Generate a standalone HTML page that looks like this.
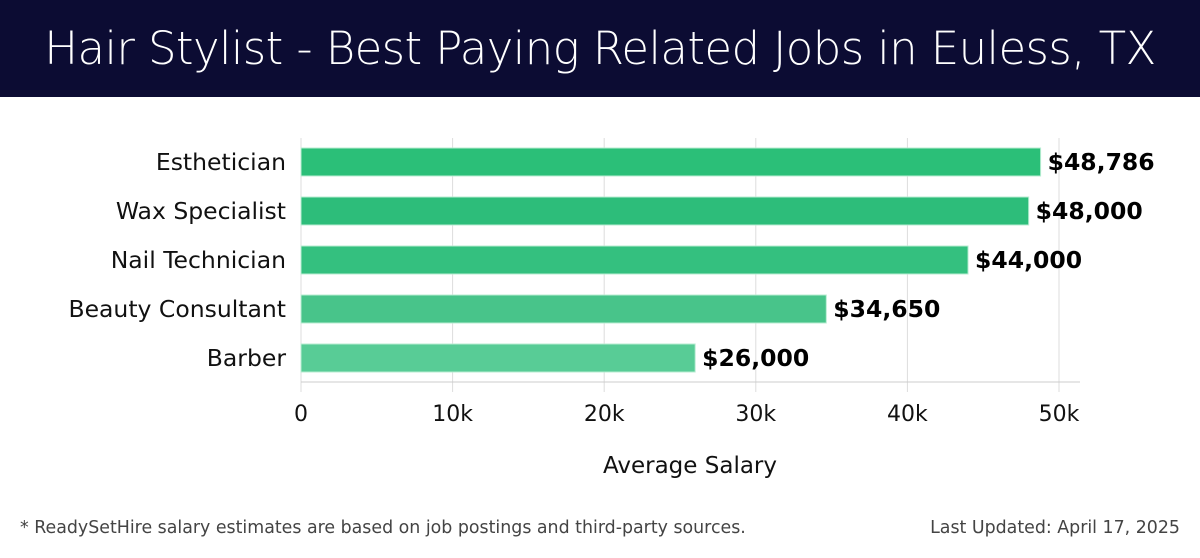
<!DOCTYPE html>
<html><head><meta charset="utf-8"><style>
body{margin:0;width:1200px;height:558px;background:#fff;font-family:"DejaVu Sans","Liberation Sans",sans-serif;overflow:hidden;position:relative}
#hdr{position:absolute;left:0;top:0;width:1200px;height:97px;background:#0c0c33;color:#fff;font-size:45px;text-align:center;line-height:97px;font-family:"DejaVu Sans","Liberation Sans",sans-serif;font-weight:300;letter-spacing:-0.6px}
.foot{position:absolute;top:518px;font-size:17.4px;color:#444}
</style></head><body>
<div id="hdr">Hair Stylist - Best Paying Related Jobs in Euless, TX</div>
<svg id="chart" width="1200" height="500" style="position:absolute;left:0;top:0"></svg>
<div class="foot" style="left:20px">* ReadySetHire salary estimates are based on job postings and third-party sources.</div>
<div class="foot" style="right:20px">Last Updated: April 17, 2025</div>
<script>
const categories=["Esthetician","Wax Specialist","Nail Technician","Beauty Consultant","Barber"];
const values=[48786,48000,44000,34650,26000];
const labels=["$48,786","$48,000","$44,000","$34,650","$26,000"];
const ticks=[0,10000,20000,30000,40000,50000];
const tickLabels=["0","10k","20k","30k","40k","50k"];
const colors=["#2bbf78","#2dbd7a","#34c07f","#48c48a","#58cc96"];
const svg=document.getElementById('chart');const NS="http://www.w3.org/2000/svg";
const x=v=>301+v*(1059-301)/50000;
const y=i=>148+i*49;
function mk(t,a){const e=document.createElementNS(NS,t);for(const k in a)e.setAttribute(k,a[k]);svg.appendChild(e);return e;}
ticks.forEach((t,i)=>{
 const g=mk('line',{x1:x(t),x2:x(t),y1:138,y2:392,stroke:'#ddd','stroke-width':1});
 
 
 const tl=mk('text',{x:x(t),y:421,'text-anchor':'middle','font-size':22,fill:'#111'});tl.textContent=tickLabels[i];
 
 
});
const ax=mk('line',{x1:301,x2:1080,y1:382,y2:382,stroke:'#ccc'});


categories.forEach((c,i)=>{
 const r=mk('rect',{x:x(0),y:y(i),width:x(values[i])-x(0),height:28,fill:colors[i],stroke:'#b8ecd2','stroke-width':1});
 
 
 const l=mk('text',{x:286,y:y(i)+22,'text-anchor':'end','font-size':23.5,fill:'#111'});l.textContent=c;
 
 
 const v=mk('text',{x:x(values[i])+7,y:y(i)+22,'font-size':23.5,'font-weight':'bold',fill:'#000'});v.textContent=labels[i];
 
 
});
const at=mk('text',{x:690,y:473,'text-anchor':'middle','font-size':23,fill:'#111'});at.textContent="Average Salary";


</script>
</body></html>
